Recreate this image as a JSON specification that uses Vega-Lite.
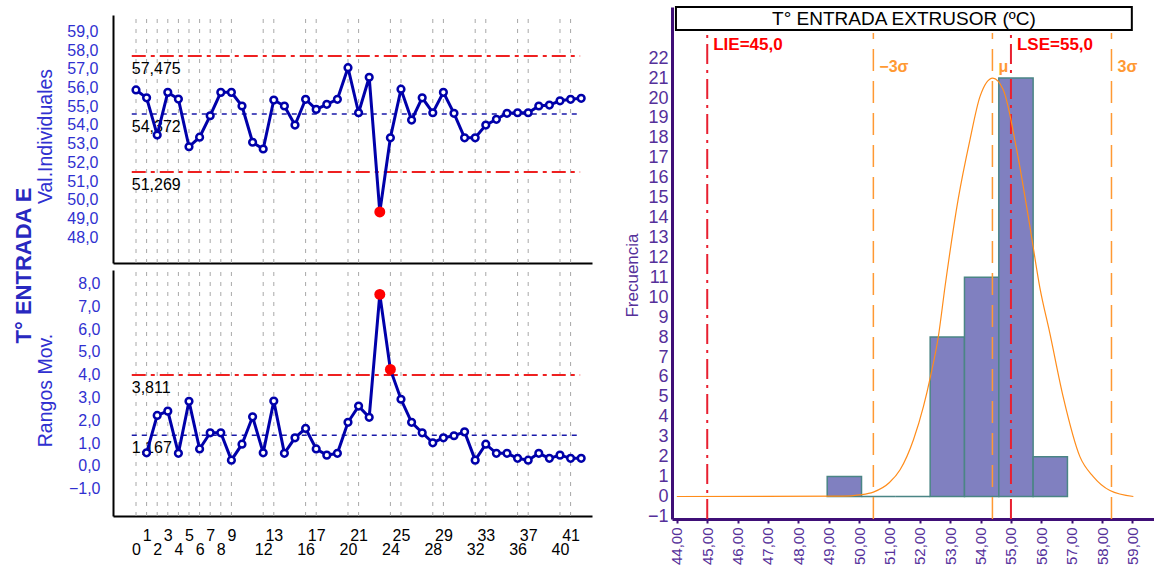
{
  "$schema": "https://vega.github.io/schema/vega-lite/v6.json",
  "width": 1154,
  "height": 568,
  "autosize": {"type": "none"},
  "padding": 0,
  "background": "white",
  "config": {"view": {"stroke": null}, "font": "Liberation Sans"},
  "datasets": {
    "ind": [
      {"i":0,"v":55.66},{"i":1,"v":55.24},{"i":2,"v":53.25},{"i":3,"v":55.53},{"i":4,"v":55.17},{"i":5,"v":52.62},{"i":6,"v":53.13},{"i":7,"v":54.28},{"i":8,"v":55.53},{"i":9,"v":55.53},
      {"i":10,"v":54.80},{"i":11,"v":52.86},{"i":12,"v":52.50},{"i":13,"v":55.12},{"i":14,"v":54.80},{"i":15,"v":53.78},{"i":16,"v":55.16},{"i":17,"v":54.62},{"i":18,"v":54.89},{"i":19,"v":55.16},
      {"i":20,"v":56.85},{"i":21,"v":54.44},{"i":22,"v":56.34},{"i":23,"v":49.13},{"i":24,"v":53.10},{"i":25,"v":55.70},{"i":26,"v":54.05},{"i":27,"v":55.24},{"i":28,"v":54.44},{"i":29,"v":55.53},
      {"i":30,"v":54.41},{"i":31,"v":53.10},{"i":32,"v":53.10},{"i":33,"v":53.78},{"i":34,"v":54.09},{"i":35,"v":54.41},{"i":36,"v":54.44},{"i":37,"v":54.44},{"i":38,"v":54.80},{"i":39,"v":54.85},
      {"i":40,"v":55.08},{"i":41,"v":55.16},{"i":42,"v":55.21}
    ],
    "mr": [
      {"i":1,"v":0.40},{"i":2,"v":2.04},{"i":3,"v":2.23},{"i":4,"v":0.38},{"i":5,"v":2.66},{"i":6,"v":0.57},{"i":7,"v":1.28},{"i":8,"v":1.28},{"i":9,"v":0.08},{"i":10,"v":0.78},
      {"i":11,"v":1.98},{"i":12,"v":0.40},{"i":13,"v":2.67},{"i":14,"v":0.38},{"i":15,"v":1.06},{"i":16,"v":1.47},{"i":17,"v":0.57},{"i":18,"v":0.30},{"i":19,"v":0.38},{"i":20,"v":1.74},
      {"i":21,"v":2.45},{"i":22,"v":1.96},{"i":23,"v":7.35},{"i":24,"v":4.06},{"i":25,"v":2.75},{"i":26,"v":1.74},{"i":27,"v":1.28},{"i":28,"v":0.84},{"i":29,"v":1.06},{"i":30,"v":1.15},
      {"i":31,"v":1.32},{"i":32,"v":0.08},{"i":33,"v":0.78},{"i":34,"v":0.38},{"i":35,"v":0.38},{"i":36,"v":0.16},{"i":37,"v":0.08},{"i":38,"v":0.38},{"i":39,"v":0.16},{"i":40,"v":0.30},
      {"i":41,"v":0.16},{"i":42,"v":0.16}
    ],
    "gridx": [
      {"g":0},{"g":1},{"g":2},{"g":3},{"g":4},{"g":5},{"g":6},{"g":7},{"g":8},{"g":9},{"g":12},{"g":13},{"g":16},{"g":17},{"g":20},{"g":21},{"g":24},{"g":25},{"g":28},{"g":29},{"g":32},{"g":33},{"g":36},{"g":37},{"g":40},{"g":41}
    ],
    "ctrl_i": [
      {"y":57.475,"lab":"57,475","t":"L"},{"y":54.372,"lab":"54,372","t":"C"},{"y":51.269,"lab":"51,269","t":"L"}
    ],
    "ctrl_r": [
      {"y":3.811,"lab":"3,811","t":"L"},{"y":1.167,"lab":"1,167","t":"C"}
    ],
    "hist": [
      {"b0":48.95,"b1":50.08,"n":1},{"b0":50.08,"b1":51.21,"n":0},{"b0":51.21,"b1":52.34,"n":0},{"b0":52.34,"b1":53.47,"n":8},{"b0":53.47,"b1":54.60,"n":11},{"b0":54.60,"b1":55.73,"n":21},{"b0":55.73,"b1":56.86,"n":2}
    ],
    "curve": [
      {"cx":44.0,"f":0},{"cx":49.5,"f":0.02},{"cx":50.0,"f":0.08},{"cx":50.47,"f":0.22},{"cx":51.0,"f":0.7},{"cx":51.35,"f":1.34},{"cx":51.79,"f":2.85},{"cx":52.12,"f":4.52},{"cx":52.35,"f":6.02},{"cx":52.61,"f":8.03},{"cx":52.83,"f":10.54},{"cx":53.26,"f":14.9},{"cx":53.65,"f":17.9},{"cx":53.98,"f":20.07},{"cx":54.40,"f":21.0},{"cx":54.75,"f":20.4},{"cx":55.19,"f":17.4},{"cx":55.63,"f":13.5},{"cx":55.95,"f":10.5},{"cx":56.28,"f":8.2},{"cx":56.72,"f":5.0},{"cx":57.27,"f":2.0},{"cx":57.71,"f":1.0},{"cx":58.26,"f":0.3},{"cx":59.03,"f":0.0}
    ],
    "vlines": [
      {"vx":45.0,"k":"spec","lab":"LIE=45,0"},{"vx":55.0,"k":"spec","lab":"LSE=55,0"},{"vx":50.47,"k":"sig","lab":"−3σ"},{"vx":54.39,"k":"sig","lab":"μ"},{"vx":58.31,"k":"sig","lab":"3σ"}
    ],
    "boxtitle": [{"t": "T° ENTRADA EXTRUSOR (ºC)"}]
  },
  "layer": [
    {
      "data": {"name": "gridx"},
      "mark": {"type": "rule", "color": "#A8A8A8", "strokeDash": [4, 6], "strokeWidth": 1},
      "encoding": {
        "x": {"field": "g", "type": "quantitative",
          "scale": {"domain": [-2.17, 43.02], "range": [113, 592], "nice": false, "zero": false},
          "axis": {"orient": "bottom", "offset": -305, "labels": false, "ticks": false, "grid": false, "domainColor": "#000000", "domainWidth": 2, "title": null}},
        "y": {"datum": 46.4, "type": "quantitative",
          "scale": {"domain": [46.4, 59.67], "range": [263, 15], "nice": false, "zero": false},
          "axis": {"orient": "left", "offset": -113, "values": [48,49,50,51,52,53,54,55,56,57,58,59],
            "labelExpr": "replace(format(datum.value,'.1f'),'.',',')",
            "labelColor": "#3030D0", "labelFont": "Liberation Sans", "labelFontSize": 16, "labelPadding": 15, "labelOffset": 4,
            "ticks": false, "grid": false, "domainColor": "#000000", "domainWidth": 2,
            "title": "Val.Individuales", "titleFont": "Liberation Sans", "titleFontSize": 19.5, "titleFontWeight": "normal", "titleColor": "#3030D0",
            "titleX": -58, "titleY": 136, "titleBaseline": "bottom"}},
        "y2": {"datum": 59.67}
      }
    },
    {
      "data": {"name": "ctrl_i"},
      "transform": [{"filter": "datum.t == 'L'"}],
      "mark": {"type": "rule", "color": "#EE2020", "strokeWidth": 2, "strokeDash": [14, 5, 4, 5]},
      "encoding": {
        "y": {"field": "y", "type": "quantitative", "scale": {"domain": [46.4, 59.67], "range": [263, 15], "nice": false, "zero": false}, "axis": null},
        "x": {"datum": -0.4, "type": "quantitative", "scale": {"domain": [-2.17, 43.02], "range": [113, 592], "nice": false, "zero": false}, "axis": null},
        "x2": {"datum": 41.9}
      }
    },
    {
      "data": {"name": "ctrl_i"},
      "transform": [{"filter": "datum.t == 'C'"}],
      "mark": {"type": "rule", "color": "#1A1AAA", "strokeWidth": 1.5, "strokeDash": [5, 5]},
      "encoding": {
        "y": {"field": "y", "type": "quantitative", "scale": {"domain": [46.4, 59.67], "range": [263, 15], "nice": false, "zero": false}, "axis": null},
        "x": {"datum": -0.4, "type": "quantitative", "scale": {"domain": [-2.17, 43.02], "range": [113, 592], "nice": false, "zero": false}, "axis": null},
        "x2": {"datum": 41.9}
      }
    },
    {
      "data": {"name": "ctrl_i"},
      "mark": {"type": "text", "align": "left", "baseline": "top", "dy": 5, "font": "Liberation Sans", "fontSize": 16, "color": "#000000"},
      "encoding": {
        "y": {"field": "y", "type": "quantitative", "scale": {"domain": [46.4, 59.67], "range": [263, 15], "nice": false, "zero": false}, "axis": null},
        "x": {"datum": -0.4, "type": "quantitative", "scale": {"domain": [-2.17, 43.02], "range": [113, 592], "nice": false, "zero": false}, "axis": null},
        "text": {"field": "lab", "type": "nominal"}
      }
    },
    {
      "data": {"name": "ind"},
      "mark": {"type": "line", "color": "#0000AA", "strokeWidth": 3},
      "encoding": {
        "x": {"field": "i", "type": "quantitative", "scale": {"domain": [-2.17, 43.02], "range": [113, 592], "nice": false, "zero": false}, "axis": null},
        "y": {"field": "v", "type": "quantitative", "scale": {"domain": [46.4, 59.67], "range": [263, 15], "nice": false, "zero": false},
          "axis": {"orient": "left", "offset": -113, "labels": false, "ticks": false, "domain": false, "grid": false,
            "title": "T° ENTRADA E", "titleFont": "Liberation Sans", "titleFontSize": 22, "titleFontWeight": "bold", "titleColor": "#2828C0",
            "titleX": -83, "titleY": 265, "titleBaseline": "alphabetic"}}
      }
    },
    {
      "data": {"name": "ind"},
      "mark": {"type": "point", "shape": "circle", "filled": true, "fill": "white", "stroke": "#0000AA", "strokeWidth": 2.5, "size": 45, "opacity": 1},
      "encoding": {
        "x": {"field": "i", "type": "quantitative", "scale": {"domain": [-2.17, 43.02], "range": [113, 592], "nice": false, "zero": false}, "axis": null},
        "y": {"field": "v", "type": "quantitative", "scale": {"domain": [46.4, 59.67], "range": [263, 15], "nice": false, "zero": false}, "axis": null}
      }
    },
    {
      "data": {"name": "ind"},
      "transform": [{"filter": "datum.v < 51.269"}],
      "mark": {"type": "circle", "color": "#FF0000", "size": 120, "opacity": 1},
      "encoding": {
        "x": {"field": "i", "type": "quantitative", "scale": {"domain": [-2.17, 43.02], "range": [113, 592], "nice": false, "zero": false}, "axis": null},
        "y": {"field": "v", "type": "quantitative", "scale": {"domain": [46.4, 59.67], "range": [263, 15], "nice": false, "zero": false}, "axis": null}
      }
    },
    {
      "data": {"name": "gridx"},
      "mark": {"type": "rule", "color": "#A8A8A8", "strokeDash": [4, 6], "strokeWidth": 1},
      "encoding": {
        "x": {"field": "g", "type": "quantitative",
          "scale": {"domain": [-2.17, 43.02], "range": [113, 592], "nice": false, "zero": false},
          "axis": {"orient": "bottom", "offset": -52, "values": [0,1,2,3,4,5,6,7,8,9,12,13,16,17,20,21,24,25,28,29,32,33,36,37,40,41],
            "labelExpr": "datum.value % 2 == 1 ? [datum.label, ''] : ['', datum.label]",
            "labelBaseline": "top", "labelLineHeight": 14, "labelPadding": 11, "labelFont": "Liberation Sans", "labelFontSize": 16, "labelColor": "#000000",
            "labelOverlap": false, "labelFlush": false, "labelBound": false,
            "ticks": false, "grid": false, "domainColor": "#000000", "domainWidth": 2, "title": null}},
        "y": {"datum": -2.37, "type": "quantitative",
          "scale": {"domain": [-2.37, 8.42], "range": [516, 270], "nice": false, "zero": false},
          "axis": {"orient": "left", "offset": -113, "values": [-1,0,1,2,3,4,5,6,7,8],
            "labelExpr": "replace(format(datum.value,'.1f'),'.',',')",
            "labelColor": "#3030D0", "labelFont": "Liberation Sans", "labelFontSize": 16, "labelPadding": 13, "labelOffset": 4,
            "ticks": false, "grid": false, "domainColor": "#000000", "domainWidth": 2,
            "title": "Rangos Mov.", "titleFont": "Liberation Sans", "titleFontSize": 19.5, "titleFontWeight": "normal", "titleColor": "#3030D0",
            "titleX": -58, "titleY": 390, "titleBaseline": "bottom"}},
        "y2": {"datum": 8.42}
      }
    },
    {
      "data": {"name": "ctrl_r"},
      "transform": [{"filter": "datum.t == 'L'"}],
      "mark": {"type": "rule", "color": "#EE2020", "strokeWidth": 2, "strokeDash": [14, 5, 4, 5]},
      "encoding": {
        "y": {"field": "y", "type": "quantitative", "scale": {"domain": [-2.37, 8.42], "range": [516, 270], "nice": false, "zero": false}, "axis": null},
        "x": {"datum": -0.4, "type": "quantitative", "scale": {"domain": [-2.17, 43.02], "range": [113, 592], "nice": false, "zero": false}, "axis": null},
        "x2": {"datum": 41.9}
      }
    },
    {
      "data": {"name": "ctrl_r"},
      "transform": [{"filter": "datum.t == 'C'"}],
      "mark": {"type": "rule", "color": "#1A1AAA", "strokeWidth": 1.5, "strokeDash": [5, 5]},
      "encoding": {
        "y": {"field": "y", "type": "quantitative", "scale": {"domain": [-2.37, 8.42], "range": [516, 270], "nice": false, "zero": false}, "axis": null},
        "x": {"datum": -0.4, "type": "quantitative", "scale": {"domain": [-2.17, 43.02], "range": [113, 592], "nice": false, "zero": false}, "axis": null},
        "x2": {"datum": 41.9}
      }
    },
    {
      "data": {"name": "ctrl_r"},
      "mark": {"type": "text", "align": "left", "baseline": "top", "dy": 5, "font": "Liberation Sans", "fontSize": 16, "color": "#000000"},
      "encoding": {
        "y": {"field": "y", "type": "quantitative", "scale": {"domain": [-2.37, 8.42], "range": [516, 270], "nice": false, "zero": false}, "axis": null},
        "x": {"datum": -0.4, "type": "quantitative", "scale": {"domain": [-2.17, 43.02], "range": [113, 592], "nice": false, "zero": false}, "axis": null},
        "text": {"field": "lab", "type": "nominal"}
      }
    },
    {
      "data": {"name": "mr"},
      "mark": {"type": "line", "color": "#0000AA", "strokeWidth": 3},
      "encoding": {
        "x": {"field": "i", "type": "quantitative", "scale": {"domain": [-2.17, 43.02], "range": [113, 592], "nice": false, "zero": false}, "axis": null},
        "y": {"field": "v", "type": "quantitative", "scale": {"domain": [-2.37, 8.42], "range": [516, 270], "nice": false, "zero": false}, "axis": null}
      }
    },
    {
      "data": {"name": "mr"},
      "mark": {"type": "point", "shape": "circle", "filled": true, "fill": "white", "stroke": "#0000AA", "strokeWidth": 2.5, "size": 45, "opacity": 1},
      "encoding": {
        "x": {"field": "i", "type": "quantitative", "scale": {"domain": [-2.17, 43.02], "range": [113, 592], "nice": false, "zero": false}, "axis": null},
        "y": {"field": "v", "type": "quantitative", "scale": {"domain": [-2.37, 8.42], "range": [516, 270], "nice": false, "zero": false}, "axis": null}
      }
    },
    {
      "data": {"name": "mr"},
      "transform": [{"filter": "datum.v > 3.811"}],
      "mark": {"type": "circle", "color": "#FF0000", "size": 120, "opacity": 1},
      "encoding": {
        "x": {"field": "i", "type": "quantitative", "scale": {"domain": [-2.17, 43.02], "range": [113, 592], "nice": false, "zero": false}, "axis": null},
        "y": {"field": "v", "type": "quantitative", "scale": {"domain": [-2.37, 8.42], "range": [516, 270], "nice": false, "zero": false}, "axis": null}
      }
    },
    {
      "data": {"name": "hist"},
      "mark": {"type": "rect", "fill": "#8080C0", "stroke": "#4A8585", "strokeWidth": 1.5},
      "encoding": {
        "x": {"field": "b0", "type": "quantitative",
          "scale": {"domain": [43.84, 59.71], "range": [672, 1154], "nice": false, "zero": false},
          "axis": {"orient": "bottom", "offset": -49, "values": [44,45,46,47,48,49,50,51,52,53,54,55,56,57,58,59],
            "labelExpr": "replace(format(datum.value,'.2f'),'.',',')", "labelAngle": 270, "labelAlign": "right", "labelBaseline": "middle",
            "labelFont": "Liberation Sans", "labelFontSize": 15, "labelColor": "#55309A", "labelPadding": 4,
            "labelOverlap": false, "labelFlush": false, "labelBound": false,
            "ticks": true, "tickSize": 4, "tickWidth": 2, "tickColor": "#3F0F77",
            "grid": false, "domainColor": "#3F0F77", "domainWidth": 3, "title": null}},
        "x2": {"field": "b1"},
        "y": {"field": "n", "type": "quantitative",
          "scale": {"domain": [-1.13, 24.57], "range": [519, 7], "nice": false, "zero": false},
          "axis": {"orient": "left", "offset": -672, "values": [-1,0,1,2,3,4,5,6,7,8,9,10,11,12,13,14,15,16,17,18,19,20,21,22],
            "labelFont": "Liberation Sans", "labelFontSize": 18, "labelColor": "#55309A", "labelPadding": 4,
            "labelOverlap": false, "labelFlush": false, "labelBound": false,
            "ticks": false, "grid": false, "domainColor": "#3F0F77", "domainWidth": 3,
            "title": "Frecuencia", "titleFont": "Liberation Sans", "titleFontSize": 17, "titleFontWeight": "normal", "titleColor": "#55309A",
            "titleX": -31, "titleY": 275, "titleBaseline": "bottom"}}
      }
    },
    {
      "data": {"name": "vlines"},
      "transform": [{"filter": "datum.k == 'spec'"}],
      "mark": {"type": "rule", "color": "#E82030", "strokeWidth": 2, "strokeDash": [20, 6, 3, 6]},
      "encoding": {
        "x": {"field": "vx", "type": "quantitative", "scale": {"domain": [43.84, 59.71], "range": [672, 1154], "nice": false, "zero": false}, "axis": null},
        "y": {"datum": -1.13, "type": "quantitative", "scale": {"domain": [-1.13, 24.57], "range": [519, 7], "nice": false, "zero": false}, "axis": null},
        "y2": {"datum": 23.26}
      }
    },
    {
      "data": {"name": "vlines"},
      "transform": [{"filter": "datum.k == 'sig'"}],
      "mark": {"type": "rule", "color": "#FF9933", "strokeWidth": 1.5, "strokeDash": [22, 10]},
      "encoding": {
        "x": {"field": "vx", "type": "quantitative", "scale": {"domain": [43.84, 59.71], "range": [672, 1154], "nice": false, "zero": false}, "axis": null},
        "y": {"datum": -1.13, "type": "quantitative", "scale": {"domain": [-1.13, 24.57], "range": [519, 7], "nice": false, "zero": false}, "axis": null},
        "y2": {"datum": 23.26}
      }
    },
    {
      "data": {"name": "curve"},
      "mark": {"type": "line", "color": "#FF8C1A", "strokeWidth": 1.2, "interpolate": "monotone"},
      "encoding": {
        "x": {"field": "cx", "type": "quantitative", "scale": {"domain": [43.84, 59.71], "range": [672, 1154], "nice": false, "zero": false}, "axis": null},
        "y": {"field": "f", "type": "quantitative", "scale": {"domain": [-1.13, 24.57], "range": [519, 7], "nice": false, "zero": false}, "axis": null}
      }
    },
    {
      "data": {"name": "vlines"},
      "transform": [{"filter": "datum.k == 'spec'"}],
      "mark": {"type": "text", "align": "left", "baseline": "top", "dx": 6, "font": "Liberation Sans", "fontSize": 17, "fontWeight": "bold", "color": "#FF0000"},
      "encoding": {
        "x": {"field": "vx", "type": "quantitative", "scale": {"domain": [43.84, 59.71], "range": [672, 1154], "nice": false, "zero": false}, "axis": null},
        "y": {"datum": 23.05, "type": "quantitative", "scale": {"domain": [-1.13, 24.57], "range": [519, 7], "nice": false, "zero": false}, "axis": null},
        "text": {"field": "lab", "type": "nominal"}
      }
    },
    {
      "data": {"name": "vlines"},
      "transform": [{"filter": "datum.k == 'sig'"}],
      "mark": {"type": "text", "align": "left", "baseline": "middle", "dx": 6, "font": "Liberation Sans", "fontSize": 16, "fontWeight": "bold", "color": "#FF9933"},
      "encoding": {
        "x": {"field": "vx", "type": "quantitative", "scale": {"domain": [43.84, 59.71], "range": [672, 1154], "nice": false, "zero": false}, "axis": null},
        "y": {"datum": 21.56, "type": "quantitative", "scale": {"domain": [-1.13, 24.57], "range": [519, 7], "nice": false, "zero": false}, "axis": null},
        "text": {"field": "lab", "type": "nominal"}
      }
    },
    {
      "data": {"name": "boxtitle"},
      "mark": {"type": "rect", "fill": "white", "stroke": "#000000", "strokeWidth": 2},
      "encoding": {
        "x": {"datum": 43.97, "type": "quantitative", "scale": {"domain": [43.84, 59.71], "range": [672, 1154], "nice": false, "zero": false}, "axis": null},
        "x2": {"datum": 58.98},
        "y": {"datum": 23.42, "type": "quantitative", "scale": {"domain": [-1.13, 24.57], "range": [519, 7], "nice": false, "zero": false}, "axis": null},
        "y2": {"datum": 24.57}
      }
    },
    {
      "data": {"name": "boxtitle"},
      "mark": {"type": "text", "align": "center", "baseline": "middle", "font": "Liberation Sans", "fontSize": 19, "color": "#000000"},
      "encoding": {
        "x": {"datum": 51.475, "type": "quantitative", "scale": {"domain": [43.84, 59.71], "range": [672, 1154], "nice": false, "zero": false}, "axis": null},
        "y": {"datum": 23.99, "type": "quantitative", "scale": {"domain": [-1.13, 24.57], "range": [519, 7], "nice": false, "zero": false}, "axis": null},
        "text": {"field": "t", "type": "nominal"}
      }
    }
  ],
  "resolve": {"scale": {"x": "independent", "y": "independent"}, "axis": {"x": "independent", "y": "independent"}}
}
